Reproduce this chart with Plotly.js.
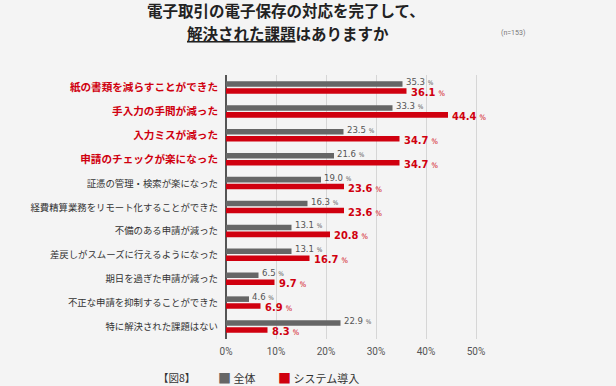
<!DOCTYPE html>
<html>
<head>
<meta charset="utf-8">
<script src="https://cdn.plot.ly/plotly-3.0.1.min.js"></script>
<style>html,body{margin:0;padding:0;background:#f4f4f4;}</style>
</head>
<body>
<div id="chart" style="width:616px;height:386px;"></div>
<script>
const categories = [
  "紙の書類を減らすことができた",
  "手入力の手間が減った",
  "入力ミスが減った",
  "申請のチェックが楽になった",
  "証憑の管理・検索が楽になった",
  "経費精算業務をリモート化することができた",
  "不備のある申請が減った",
  "差戻しがスムーズに行えるようになった",
  "期日を過ぎた申請が減った",
  "不正な申請を抑制することができた",
  "特に解決された課題はない"
];
const highlighted = [true, true, true, true, false, false, false, false, false, false, false];
const allValues = [35.3, 33.3, 23.5, 21.6, 19.0, 16.3, 13.1, 13.1, 6.5, 4.6, 22.9];
const systemValues = [36.1, 44.4, 34.7, 34.7, 23.6, 23.6, 20.8, 16.7, 9.7, 6.9, 8.3];
const seriesNames = ["全体", "システム導入"];
const xTickVals = [0, 10, 20, 30, 40, 50];
const xTickText = ["0%", "10%", "20%", "30%", "40%", "50%"];
const titleLine1 = "電子取引の電子保存の対応を完了して、";
const titleLine2 = "<u>解決された課題</u>はありますか";

const RED = "#d0000f";
const GRAY = "#666666";
const FONT = "Noto Sans CJK JP, Noto Sans, sans-serif";
const NUMFONT = "DejaVu Sans Condensed, Liberation Sans Narrow, Roboto, sans-serif";

const tickText = categories.map((c, i) => highlighted[i]
  ? '<span style="font-size:10.6px;font-weight:bold;fill:' + RED + '">' + c + '</span>'
  : '<span style="font-size:9.4px;fill:#333333">' + c + '</span>');

const traces = [
  {
    type: "bar", orientation: "h", name: seriesNames[0],
    y: categories, x: allValues,
    marker: {color: GRAY},
    hoverinfo: "skip", showlegend: false
  },
  {
    type: "bar", orientation: "h", name: seriesNames[1],
    y: categories, x: systemValues,
    marker: {color: RED},
    hoverinfo: "skip", showlegend: false
  }
];

const valueAnnotations = [];
categories.forEach((c, i) => {
  valueAnnotations.push({
    x: allValues[i], y: c, xref: "x", yref: "y",
    text: allValues[i].toFixed(1) + ' <span style="font-size:6.5px">%</span>',
    xanchor: "left", yanchor: "middle", xshift: 2, yshift: 6, borderpad: 0,
    showarrow: false, font: {family: NUMFONT, size: 9.5, color: "#555555"}
  });
  valueAnnotations.push({
    x: systemValues[i], y: c, xref: "x", yref: "y",
    text: '<b>' + systemValues[i].toFixed(1) + '</b> <span style="font-size:7.5px">%</span>',
    xanchor: "left", yanchor: "middle", xshift: 3, yshift: -5, borderpad: 0,
    showarrow: false, font: {family: NUMFONT, size: 11, color: RED}
  });
});

const layout = {
  width: 616, height: 386,
  paper_bgcolor: "#f4f4f4", plot_bgcolor: "#f4f4f4",
  margin: {l: 226, r: 135, t: 75, b: 47, autoexpand: false},
  font: {family: FONT, color: "#333333"},
  barmode: "group", bargap: 0.42, bargroupgap: 0.2,
  title: {
    text: titleLine1,
    font: {family: FONT, size: 15.5, color: "#222222", weight: "bold"},
    x: 0.464, xanchor: "center", xref: "container",
    y: 1 - 11.5 / 386, yanchor: "middle", yref: "container"
  },
  xaxis: {
    range: [0, 51], tickvals: xTickVals, ticktext: xTickText,
    showgrid: true, gridcolor: "#d6d6d6", gridwidth: 1,
    zeroline: true, zerolinecolor: "#555555", zerolinewidth: 1.5,
    showline: false, fixedrange: true,
    tickfont: {family: "Roboto, sans-serif", size: 10, color: "#555555"},
    ticklabelstandoff: 5
  },
  yaxis: {
    autorange: "reversed", tickvals: categories, ticktext: tickText,
    showgrid: false, zeroline: false, showline: false,
    ticklabelstandoff: 7,
    tickfont: {family: FONT, size: 10, color: "#333333"}
  },
  showlegend: false,
  annotations: valueAnnotations.concat([
    {text: '<b>' + titleLine2 + '</b>', xref: "paper", yref: "paper",
     x: (288 - 226) / 255, y: (339 - 33) / 264, xanchor: "center", yanchor: "middle", borderpad: 0,
     showarrow: false, font: {family: FONT, size: 15.5, color: "#222222"}},
    {text: "【図8】", xref: "paper", yref: "paper", x: -0.275, y: -0.144, xanchor: "left", yanchor: "middle",
     showarrow: false, font: {family: FONT, size: 10.5, color: "#333333"}},
    {text: '<span style="fill:' + GRAY + ';font-size:13px">■</span> ' + seriesNames[0], xref: "paper", yref: "paper",
     x: -0.04, y: -0.144, xanchor: "left", yanchor: "middle",
     showarrow: false, font: {family: FONT, size: 11, color: "#333333"}},
    {text: '<span style="fill:' + RED + ';font-size:13px">■</span> ' + seriesNames[1], xref: "paper", yref: "paper",
     x: 0.198, y: -0.144, xanchor: "left", yanchor: "middle",
     showarrow: false, font: {family: FONT, size: 11, color: "#333333"}},
    {text: "(n=153)", xref: "paper", yref: "paper", x: 1.07, y: 1.159, xanchor: "left", yanchor: "middle",
     showarrow: false, font: {family: "Roboto, sans-serif", size: 7, color: "#777777"}}
  ])
};

Plotly.newPlot("chart", traces, layout, {displayModeBar: false, staticPlot: true});
</script>
</body>
</html>
